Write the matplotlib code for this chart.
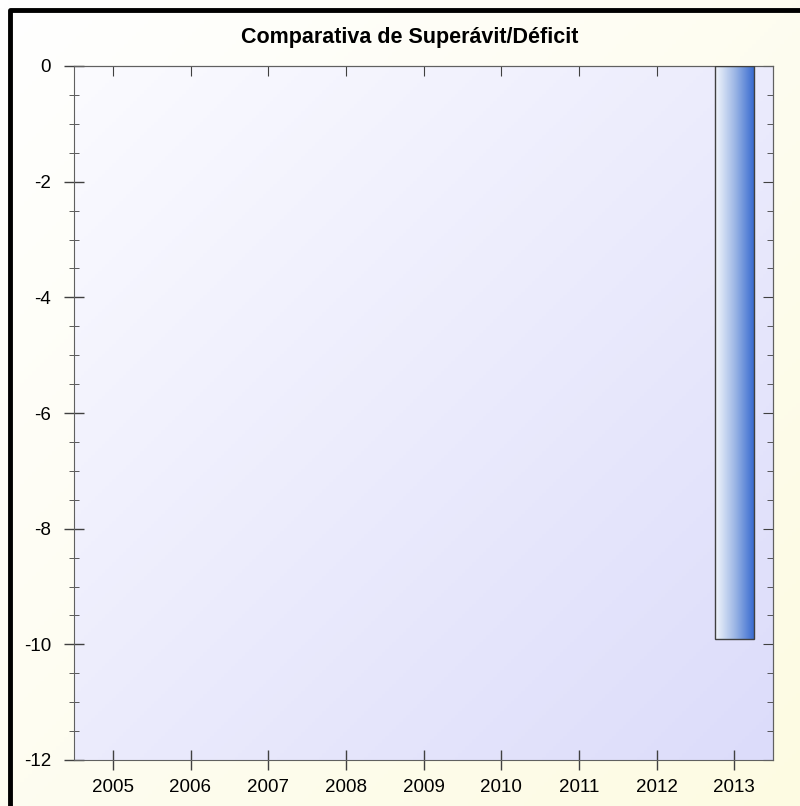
import numpy as np
import matplotlib
matplotlib.use("Agg")
import matplotlib.pyplot as plt
from matplotlib.colors import LinearSegmentedColormap
from matplotlib.ticker import MultipleLocator

years = [2005, 2006, 2007, 2008, 2009, 2010, 2011, 2012, 2013]
balance = [0, 0, 0, 0, 0, 0, 0, 0, -9.9]
title = "Comparativa de Superávit/Déficit"

plt.rcParams['font.family'] = ['Liberation Sans', 'DejaVu Sans']
plt.rcParams['axes.unicode_minus'] = False

fig = plt.figure(figsize=(8, 8.06), dpi=100)

# outer background gradient
bg = fig.add_axes([0, 0, 1, 1], zorder=-10)
gx, gy = np.meshgrid(np.linspace(0, 1, 200), np.linspace(0, 1, 200))
bg.imshow((gx + gy) / 2, cmap=LinearSegmentedColormap.from_list("o", ["#ffffff", "#fdfbe2"]),
          extent=[0, 1, 0, 1], origin="upper", aspect="auto")
bg.plot([0.013, 0.013, 1], [0, 0.988, 0.988], color="black", lw=3.5, solid_capstyle="butt")
bg.set_xlim(0, 1)
bg.set_ylim(0, 1)
bg.axis("off")

W, H = 800, 806
left, right, top, bottom = 74, 773, 66, 760
ax = fig.add_axes([left / W, 1 - bottom / H, (right - left) / W, (bottom - top) / H])

# plot area gradient
ax.imshow((gx + gy) / 2, cmap=LinearSegmentedColormap.from_list("p", ["#fbfbff", "#dcdcfa"]),
          extent=[2004.5, 2013.5, -12, 0], origin="upper", aspect="auto", zorder=0)

edges = ["#404040" if v != 0 else "none" for v in balance]
bars = ax.bar(years, balance, width=0.5, color="none", edgecolor=edges, lw=1, zorder=3)
bar_cmap = LinearSegmentedColormap.from_list("b", ["#f4f7fc", "#9fb8e6", "#3a6cd0"])
for rect, v in zip(bars, balance):
    if v == 0:
        continue
    x0 = rect.get_x()
    im = ax.imshow(np.linspace(0, 1, 100)[None, :], cmap=bar_cmap,
                   extent=[x0, x0 + rect.get_width(), v, 0], aspect="auto", zorder=2)
    im.set_clip_path(rect)

ax.set_xlim(2004.5, 2013.5)
ax.set_ylim(-12, 0)
ax.set_xticks(years)
ax.set_yticks(range(-12, 1, 2))
ax.yaxis.set_minor_locator(MultipleLocator(0.5))

for s in ax.spines.values():
    s.set_color("#606060")

tc = "#404040"
ax.tick_params(axis="both", which="major", labelsize=13.5, color=tc, width=1)
ax.tick_params(axis="y", which="major", direction="inout", length=15, pad=9)
ax.tick_params(axis="y", which="minor", direction="inout", length=7, color=tc)
ax.tick_params(axis="x", which="major", direction="inout", length=15, pad=6)
ax.tick_params(axis="x", which="minor", bottom=False)

# top and right ticks point inward only
sx = ax.secondary_xaxis("top")
sx.set_xticks(years)
sx.tick_params(direction="in", length=7, color=tc, labeltop=False)
sy = ax.secondary_yaxis("right")
sy.set_yticks(range(-12, 1, 2))
sy.yaxis.set_minor_locator(MultipleLocator(0.5))
sy.tick_params(which="major", direction="in", length=7, color=tc, labelright=False)
sy.tick_params(which="minor", direction="in", length=4, color=tc)
for s in list(sx.spines.values()) + list(sy.spines.values()):
    s.set_color("#606060")

fig.text(410 / W, 1 - 38 / H, title, fontsize=15.5, fontweight="bold",
         ha="center", va="center")

fig.savefig("out.png", dpi=100)
